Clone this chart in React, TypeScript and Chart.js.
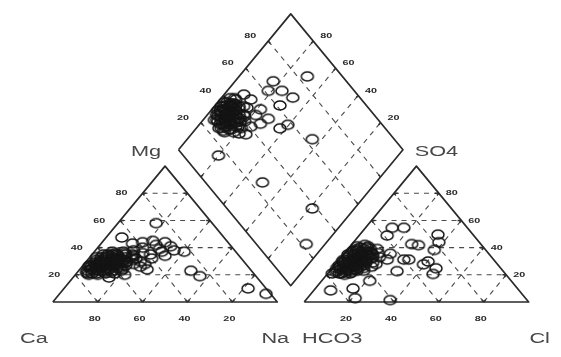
import React, { useEffect, useRef } from "react";
import { Chart, registerables } from "chart.js";

Chart.register(...registerables);

// ---------------- data ----------------
const TICKS = [20, 40, 60, 80];

// cation triangle samples: [Mg %, Na+K %]  (Ca = remainder)
const cationPoints: [number, number][] = [
  [22, 4], [24, 5], [26, 4], [28, 5], [30, 6], [25, 7], [27, 8], [29, 9], [31, 8], [33, 7],
  [23, 9], [21, 7], [20, 10], [26, 11], [28, 12], [30, 11], [32, 10], [34, 12], [24, 13], [27, 14],
  [31, 14], [35, 9], [29, 16], [33, 16], [22, 12], [25, 16], [36, 14], [30, 18], [27, 19], [24, 19],
  [34, 19], [38, 17], [32, 21], [28, 22], [36, 22], [26, 3], [31, 4], [20, 6], [35, 5], [33, 3],
  [21, 5], [21, 9], [21, 13], [21, 17], [23, 4], [23, 11], [23, 15], [23, 19], [25, 5], [25, 9],
  [25, 12], [25, 18], [27, 3], [27, 6], [27, 10], [27, 12], [27, 16], [29, 4], [29, 7], [29, 11],
  [29, 13], [29, 18], [31, 6], [31, 12], [31, 16], [31, 20], [33, 5], [33, 10], [33, 13], [33, 19],
  [35, 7], [35, 11], [35, 15], [35, 18], [37, 8], [37, 13], [22, 15], [24, 8], [26, 14], [28, 8],
  [30, 15], [32, 13], [34, 8], [36, 10], [28, 15], [26, 7],
  [40, 20], [42, 25], [39, 28], [41, 32], [37, 30], [35, 26], [32, 28], [30, 24], [28, 27], [44, 18],
  [45, 22], [43, 14], [38, 35], [34, 33], [26, 26], [24, 30], [20, 22], [18, 16], [44, 28],
  [58, 17], [47.5, 7], [37, 40], [23, 50], [19, 56], [10, 82], [6, 92], [23, 7],
];

// anion triangle samples: [SO4 %, Cl %]  (HCO3 = remainder)
const anionPoints: [number, number][] = [
  [22, 3], [24, 4], [26, 3], [28, 4], [30, 5], [25, 6], [27, 7], [29, 8], [32, 6], [34, 5],
  [23, 7], [21, 5], [26, 9], [28, 10], [31, 10], [33, 9], [35, 8], [36, 6], [38, 5], [24, 11],
  [30, 12], [34, 12], [37, 11], [40, 8], [40, 5], [42, 6], [27, 13], [32, 14], [36, 15], [29, 16],
  [25, 14], [22, 10], [20, 8], [38, 3], [31, 2], [39, 13], [33, 17], [28, 18], [23, 15], [26, 17],
  [21, 2], [21, 6], [21, 10], [23, 3], [23, 9], [23, 12], [25, 2], [25, 5], [25, 8], [25, 11],
  [27, 2], [27, 5], [27, 9], [27, 11], [29, 3], [29, 6], [29, 10], [29, 13], [31, 4], [31, 7],
  [31, 12], [33, 3], [33, 7], [33, 11], [33, 14], [35, 2], [35, 5], [35, 10], [35, 13], [37, 3],
  [37, 7], [37, 9], [39, 4], [39, 7], [39, 10], [41, 3], [41, 8], [24, 7], [26, 12], [28, 7],
  [30, 9], [32, 9], [34, 3], [36, 12], [22, 7], [30, 2],
  [54.6, 11.9], [54.6, 17.1], [48.9, 12.5], [42.6, 26.6], [49.6, 34.8], [38.3, 38.8], [35.5, 20.6],
  [31.2, 31], [22.7, 30], [41.8, 30], [29.8, 40.3], [24.8, 46.3], [27.7, 39.3], [20.6, 47.1],
  [15.6, 21.4], [9.9, 16.8], [8.5, 7.5], [2.8, 21.3], [1.4, 37.6], [31.2, 28.8], [31.2, 21.4], [44, 38],
];

// diamond samples: [Na+K %, SO4+Cl %]
const diamondPoints: [number, number][] = [
  [4, 30], [5, 33], [6, 36], [7, 31], [8, 34], [9, 37], [10, 32], [11, 35], [12, 38], [6, 40],
  [8, 42], [10, 40], [13, 33], [14, 36], [15, 30], [12, 29], [9, 28], [5, 27], [3, 35], [4, 39],
  [7, 44], [11, 43], [16, 39], [17, 34], [18, 31], [14, 27], [16, 42], [20, 36], [19, 40], [13, 45],
  [3, 32], [10, 26], [7, 28], [15, 46], [21, 33],
  [4, 33], [4, 36], [4, 42], [5, 30], [5, 38], [6, 33], [6, 28], [6, 44], [7, 35], [7, 39],
  [7, 41], [8, 30], [8, 37], [8, 40], [9, 32], [9, 35], [9, 42], [10, 29], [10, 35], [10, 38],
  [11, 31], [11, 40], [12, 33], [12, 36], [12, 42], [13, 30], [13, 38], [14, 33], [14, 40], [15, 35],
  [15, 38], [16, 31], [16, 36], [17, 38], [17, 42], [18, 35], [11, 27], [13, 27], [5, 35], [3, 38],
  [8.8, 49.4], [17, 67.4], [18.3, 61.7], [24.4, 67.8], [31.7, 70.1], [28.9, 61.5], [28.6, 51.4],
  [26.9, 46.1], [24.3, 35.7], [39.5, 57.9], [30.4, 84.4], [55.7, 63.5], [13.7, 50.7], [21.6, 47.2],
  [21.6, 51.4], [23.7, 40.7], [37.3, 53.1], [19.9, 15.7], [49.4, 25.4], [81.2, 38], [91.6, 22.2],
];

const cationNames = ["Ca", "Mg", "Na"];
const anionNames = ["HCO3", "SO4", "Cl"];

// ---------------- geometry ----------------
const GAP = 12;
const OFF = 100 + GAP;
const S3 = Math.sqrt(3) / 2;
const X_MIN = -20.42;
const X_MAX = 223.3;
const Y_MIN = -30.6;
const Y_MAX = 188.0;

type P = { x: number; y: number };
const cat = (mg: number, na: number): P => ({ x: na + mg / 2, y: mg * S3 });
const an = (so4: number, cl: number): P => ({ x: OFF + cl + so4 / 2, y: so4 * S3 });
const dia = (na: number, s: number): P => ({ x: (na + OFF + s) / 2, y: S3 * (OFF + s - na) });

const GAPPT: P = { x: NaN, y: NaN };
function join(segs: P[][]): P[] {
  const out: P[] = [];
  segs.forEach((s, i) => {
    if (i > 0) out.push(GAPPT);
    out.push(...s);
  });
  return out;
}

function gridSegments(): P[][] {
  const segs: P[][] = [];
  TICKS.forEach((k) => {
    segs.push([cat(k, 0), cat(k, 100 - k)]);
    segs.push([cat(0, k), cat(100 - k, k)]);
    segs.push([cat(0, 100 - k), cat(100 - k, 0)]);
    segs.push([an(k, 0), an(k, 100 - k)]);
    segs.push([an(0, k), an(100 - k, k)]);
    segs.push([an(0, 100 - k), an(100 - k, 0)]);
    segs.push([dia(k, 0), dia(k, 100)]);
    segs.push([dia(0, k), dia(100, k)]);
  });
  return segs;
}

function tickSegments(segs: P[][]): P[][] {
  const L = 1.7;
  const out: P[][] = [];
  segs.forEach(([a, b]) => {
    const dx = b.x - a.x;
    const dy = b.y - a.y;
    const d = Math.hypot(dx, dy);
    const ux = (dx / d) * L;
    const uy = (dy / d) * L;
    out.push([a, { x: a.x + ux, y: a.y + uy }]);
    out.push([b, { x: b.x - ux, y: b.y - uy }]);
  });
  return out;
}

type Lbl = { text: string; at: P; dx: number; dy: number; size: number; sx: number; color: string; weight: string };

function buildLabels(): Lbl[] {
  const L: Lbl[] = [];
  const t = (text: string, at: P, dx: number, dy: number) =>
    L.push({ text, at, dx, dy, size: 8, sx: 1.35, color: "#2a2a2a", weight: "bold" });
  TICKS.forEach((k) => {
    t(String(k), cat(k, 0), -21, 0);
    t(String(k), cat(0, 100 - k), -3, 17);
    t(String(k), an(k, 100 - k), 13, 0);
    t(String(k), an(0, k), -3, 17);
    t(String(k), dia(0, k), -18, -5);
    t(String(k), dia(100 - k, 100), 13, -5);
  });
  const n = (text: string, at: P, dx: number, dy: number) =>
    L.push({ text, at, dx, dy, size: 15.5, sx: 1.4, color: "#484848", weight: "normal" });
  n(cationNames[0], cat(0, 0), -19, 37);
  n(cationNames[2], cat(0, 100), -2, 37);
  n(cationNames[1], cat(100, 0), -19, -14);
  n(anionNames[0], an(0, 0), 28, 37);
  n(anionNames[2], an(0, 100), 11, 37);
  n(anionNames[1], an(100, 0), 20, -14);
  return L;
}

function makeRing(): HTMLCanvasElement {
  const c = document.createElement("canvas");
  c.width = 16;
  c.height = 13;
  const g = c.getContext("2d")!;
  g.strokeStyle = "#151515";
  g.lineWidth = 1.5;
  g.beginPath();
  g.ellipse(8, 6.5, 6, 4.5, 0, 0, Math.PI * 2);
  g.stroke();
  return c;
}

export default function App() {
  const ref = useRef<HTMLCanvasElement | null>(null);

  useEffect(() => {
    if (!ref.current) return;
    const ring = makeRing();
    const grid = gridSegments();
    const labels = buildLabels();

    const pts = [
      ...cationPoints.map(([mg, na]) => cat(mg, na)),
      ...anionPoints.map(([so4, cl]) => an(so4, cl)),
      ...diamondPoints.map(([na, s]) => dia(na, s)),
    ];

    const outline = join([
      [cat(0, 0), cat(0, 100), cat(100, 0), cat(0, 0)],
      [an(0, 0), an(0, 100), an(100, 0), an(0, 0)],
      [dia(0, 0), dia(100, 0), dia(100, 100), dia(0, 100), dia(0, 0)],
    ]);

    const textPlugin = {
      id: "piperText",
      afterDatasetsDraw(chart: any) {
        const ctx: CanvasRenderingContext2D = chart.ctx;
        const xs = chart.scales.x;
        const ys = chart.scales.y;
        labels.forEach((l) => {
          const px = xs.getPixelForValue(l.at.x) + l.dx;
          const py = ys.getPixelForValue(l.at.y) + l.dy;
          ctx.save();
          ctx.translate(px, py);
          ctx.scale(l.sx, 1);
          ctx.font = `${l.weight} ${l.size}px "Liberation Sans", Arial, sans-serif`;
          ctx.fillStyle = l.color;
          ctx.textAlign = "center";
          ctx.textBaseline = "middle";
          ctx.fillText(l.text, 0, 0);
          ctx.restore();
        });
      },
    };

    const chart = new Chart(ref.current, {
      type: "scatter",
      data: {
        datasets: [
          {
            label: "samples",
            data: pts,
            pointStyle: ring as any,
            pointRadius: 6,
            pointHoverRadius: 6,
            showLine: false,
          } as any,
          {
            label: "outline",
            data: outline,
            showLine: true,
            spanGaps: false,
            borderColor: "#2a2a2a",
            borderWidth: 1.7,
            pointRadius: 0,
            pointHoverRadius: 0,
            borderJoinStyle: "round",
          } as any,
          {
            label: "ticks",
            data: join(tickSegments(grid)),
            showLine: true,
            spanGaps: false,
            borderColor: "#333",
            borderWidth: 1.6,
            pointRadius: 0,
            pointHoverRadius: 0,
          } as any,
          {
            label: "grid",
            data: join(grid),
            showLine: true,
            spanGaps: false,
            borderColor: "#4a4a4a",
            borderWidth: 1.1,
            borderDash: [5, 5],
            pointRadius: 0,
            pointHoverRadius: 0,
          } as any,
        ],
      },
      options: {
        animation: false,
        responsive: false,
        devicePixelRatio: 1,
        events: [],
        layout: { padding: 0 },
        plugins: { legend: { display: false }, tooltip: { enabled: false }, title: { display: false } },
        scales: {
          x: { type: "linear", min: X_MIN, max: X_MAX, display: false },
          y: { type: "linear", min: Y_MIN, max: Y_MAX, display: false },
        },
      },
      plugins: [textPlugin],
    });
    return () => chart.destroy();
  }, []);

  return (
    <div style={{ position: "fixed", left: 0, top: 0, width: 561, height: 357, background: "#fff" }}>
      <canvas ref={ref} width={561} height={357} style={{ display: "block" }} />
    </div>
  );
}
